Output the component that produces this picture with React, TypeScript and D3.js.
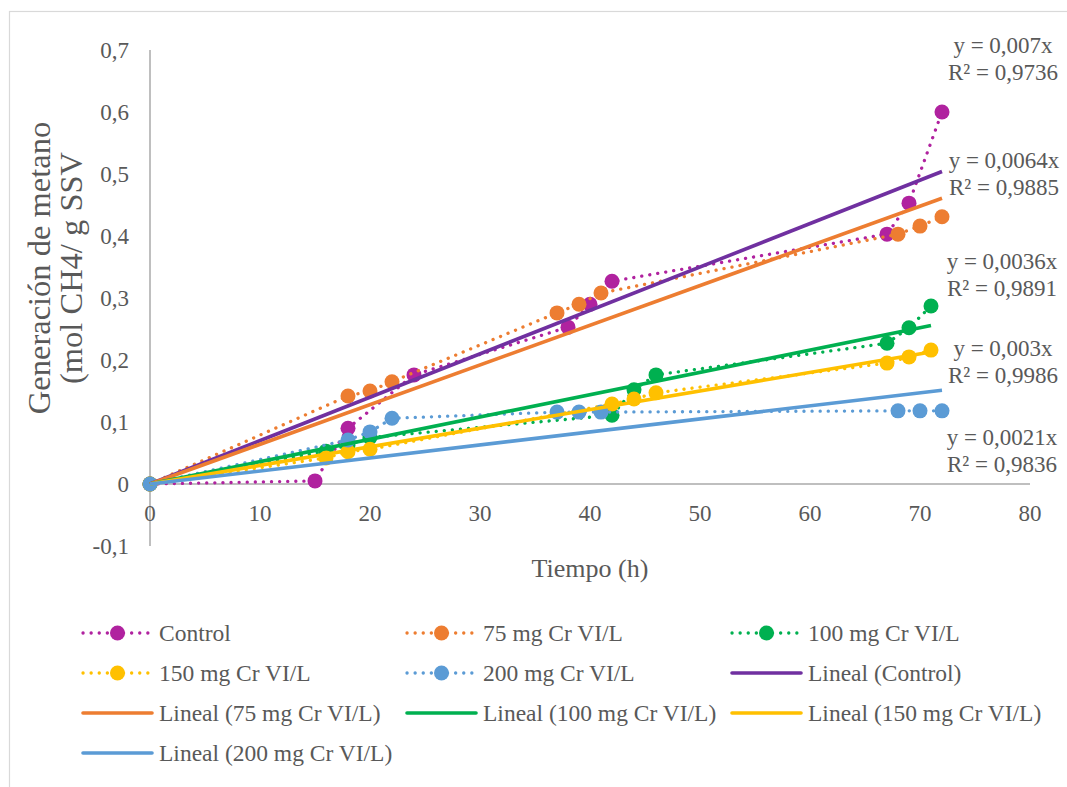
import React from "react";
import * as d3 from "d3";

const xTicks = [0, 10, 20, 30, 40, 50, 60, 70, 80];
const yTicks = [-0.1, 0, 0.1, 0.2, 0.3, 0.4, 0.5, 0.6, 0.7];
const yTickLabels = ["-0,1", "0", "0,1", "0,2", "0,3", "0,4", "0,5", "0,6", "0,7"];

const controlX = [0, 15, 18, 24, 38, 40, 42, 67, 69, 72];
const controlY = [0, 0.005, 0.09, 0.176, 0.253, 0.29, 0.327, 0.403, 0.453, 0.6];
const cr75X = [0, 18, 20, 22, 37, 39, 41, 68, 70, 72];
const cr75Y = [0, 0.142, 0.15, 0.165, 0.276, 0.29, 0.308, 0.403, 0.416, 0.431];
const cr100X = [0, 16, 18, 20, 42, 44, 46, 67, 69, 71];
const cr100Y = [0, 0.053, 0.063, 0.075, 0.111, 0.152, 0.176, 0.227, 0.252, 0.287];
const cr150X = [0, 16, 18, 20, 42, 44, 46, 67, 69, 71];
const cr150Y = [0, 0.042, 0.052, 0.056, 0.129, 0.137, 0.147, 0.195, 0.205, 0.216];
const cr200X = [0, 18, 20, 22, 37, 39, 41, 68, 70, 72];
const cr200Y = [0, 0.071, 0.084, 0.106, 0.116, 0.116, 0.116, 0.118, 0.118, 0.118];

const seriesNames = ["Control", "75 mg Cr VI/L", "100 mg Cr VI/L", "150 mg Cr VI/L", "200 mg Cr VI/L"];
const slopes = [0.007, 0.0064, 0.0036, 0.003, 0.0021];
const slopeLabels = ["y = 0,007x", "y = 0,0064x", "y = 0,0036x", "y = 0,003x", "y = 0,0021x"];
const r2Labels = ["R² = 0,9736", "R² = 0,9885", "R² = 0,9891", "R² = 0,9986", "R² = 0,9836"];

const markerColors = ["#B0229F", "#ED7D31", "#00B050", "#FFC000", "#5B9BD5"];
const trendColors = ["#7030A0", "#ED7D31", "#00B050", "#FFC000", "#5B9BD5"];

const labelPos = [
  [1003, 45],
  [1004, 160],
  [1002, 261],
  [1003, 348],
  [1002, 437],
];

const FONT = "Liberation Serif";
const TEXT = "#595959";

function T(props: any) {
  const { children, ...rest } = props;
  return (
    <text fontFamily={FONT} style={{ fontFamily: FONT }} fill={TEXT} {...rest}>
      {children}
    </text>
  );
}

export default function App() {
  const x = d3.scaleLinear().domain([0, 80]).range([150, 1030]);
  const y = d3.scaleLinear().domain([-0.1, 0.7]).range([546, 50]);

  const xs = [controlX, cr75X, cr100X, cr150X, cr200X];
  const ys = [controlY, cr75Y, cr100Y, cr150Y, cr200Y];
  const series = xs.map((arr, i) => arr.map((v, j) => [v, ys[i][j]] as [number, number]));

  const line = d3
    .line<[number, number]>()
    .x((d) => x(d[0]))
    .y((d) => y(d[1]));

  const legendItems = [
    ...seriesNames.map((n, i) => ({ name: n, color: markerColors[i], kind: "data" })),
    ...seriesNames.map((n, i) => ({ name: "Lineal (" + n + ")", color: trendColors[i], kind: "trend" })),
  ];
  const colX = [83, 407, 732];
  const rowY = [633, 673, 713, 753];

  return (
    <svg width={1067} height={787} style={{ position: "absolute", left: 0, top: 0, background: "#fff" }}>
      <rect x={0} y={0} width={1067} height={787} fill="#fff" />
      <rect x={9.5} y={11.5} width={1100} height={800} fill="none" stroke="#D9D9D9" strokeWidth={1.2} />

      <line x1={x(0)} x2={x(0)} y1={y(0.7)} y2={y(-0.1)} stroke="#BFBFBF" strokeWidth={2} />
      <line x1={x(0)} x2={x(80)} y1={y(0)} y2={y(0)} stroke="#BFBFBF" strokeWidth={2} />

      {xTicks.map((t) => (
        <T key={"xt" + t} x={x(t)} y={513} dy="0.35em" textAnchor="middle" fontSize={23}>
          {String(t)}
        </T>
      ))}
      {yTicks.map((t, i) => (
        <T key={"yt" + i} x={129} y={y(t)} dy="0.35em" textAnchor="end" fontSize={23}>
          {yTickLabels[i]}
        </T>
      ))}

      <T x={590} y={568} dy="0.35em" textAnchor="middle" fontSize={26}>
        Tiempo (h)
      </T>
      <g transform="translate(39,268) rotate(-90)">
        <T x={0} y={0} dy="0.35em" textAnchor="middle" fontSize={32.5}>
          Generación de metano
        </T>
        <T x={0} y={32} dy="0.35em" textAnchor="middle" fontSize={32.5}>
          (mol CH4/ g SSV
        </T>
      </g>

      {series.map((s, i) => (
        <g key={"s" + i}>
          <path
            d={line(s) || ""}
            fill="none"
            stroke={markerColors[i]}
            strokeWidth={3.3}
            strokeDasharray="0.1 8"
            strokeLinecap="round"
          />
          {s.map((d, j) => (
            <circle key={j} cx={x(d[0])} cy={y(d[1])} r={7.5} fill={markerColors[i]} />
          ))}
        </g>
      ))}

      {series.map((s, i) => {
        const xmax = d3.max(s, (d) => d[0]) as number;
        return (
          <line
            key={"t" + i}
            x1={x(0)}
            y1={y(0)}
            x2={x(xmax)}
            y2={y(slopes[i] * xmax)}
            stroke={trendColors[i]}
            strokeWidth={3.6}
          />
        );
      })}

      {labelPos.map((p, i) => (
        <g key={"l" + i}>
          <T x={p[0]} y={p[1]} dy="0.35em" textAnchor="middle" fontSize={23}>
            {slopeLabels[i]}
          </T>
          <T x={p[0]} y={p[1] + 27} dy="0.35em" textAnchor="middle" fontSize={23}>
            {r2Labels[i]}
          </T>
        </g>
      ))}

      {legendItems.map((it, k) => {
        const cx = colX[k % 3];
        const cy = rowY[Math.floor(k / 3)];
        return (
          <g key={"lg" + k}>
            {it.kind === "data" ? (
              <g>
                <line
                  x1={cx}
                  x2={cx + 69}
                  y1={cy}
                  y2={cy}
                  stroke={it.color}
                  strokeWidth={3.3}
                  strokeDasharray="0.1 8"
                  strokeLinecap="round"
                />
                <circle cx={cx + 34.5} cy={cy} r={7.5} fill={it.color} />
              </g>
            ) : (
              <line x1={cx} x2={cx + 69} y1={cy} y2={cy} stroke={it.color} strokeWidth={3.6} strokeLinecap="round" />
            )}
            <T x={cx + 76} y={cy} dy="0.35em" fontSize={23.5}>
              {it.name}
            </T>
          </g>
        );
      })}
    </svg>
  );
}
